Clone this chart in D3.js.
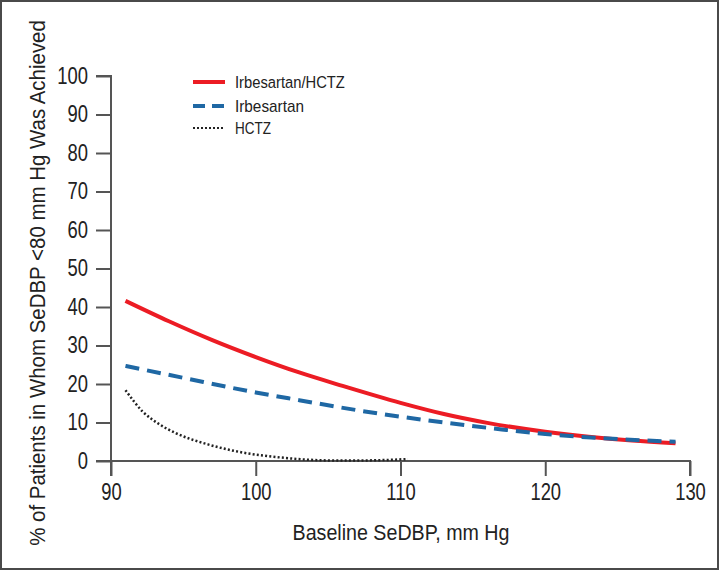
<!DOCTYPE html>
<html>
<head>
<meta charset="utf-8">
<script src="https://cdn.jsdelivr.net/npm/d3@7"></script>
<style>
  html, body { margin: 0; padding: 0; background: #fff; }
  svg { display: block; }
  text { font-family: "Liberation Sans", Arial, sans-serif; fill: #222; }
</style>
</head>
<body>
<svg id="chart" width="720" height="571"></svg>
<script>
// ---- data ----
const xTicks = [90, 100, 110, 120, 130];
const yTicks = [0, 10, 20, 30, 40, 50, 60, 70, 80, 90, 100];
const seriesNames = ["Irbesartan/HCTZ", "Irbesartan", "HCTZ"];

const comboX = [91, 94, 97, 100, 103, 106, 110, 113, 116, 120, 123, 126, 129];
const comboY = [41.6, 36.3, 31.4, 27.0, 23.0, 19.5, 15.1, 12.2, 9.9, 7.6, 6.3, 5.3, 4.6];

const irbX = [91, 95, 100, 103, 107, 110, 113, 117, 120, 125, 129];
const irbY = [24.7, 21.6, 17.8, 15.8, 13.2, 11.5, 10.0, 8.2, 7.0, 5.7, 5.0];

const hctzX = [91, 92.2, 93.4, 94.5, 96.8, 99.1, 101.5, 103.8, 106, 108.4, 110.5];
const hctzY = [18.4, 12.8, 9.4, 7.2, 4.2, 2.2, 1.0, 0.3, 0.1, 0.2, 0.5];

const xTitle = "Baseline SeDBP, mm Hg";
const yTitle = "% of Patients in Whom SeDBP <80 mm Hg Was Achieved";

// ---- drawing ----
const svg = d3.select("#chart");
const W = 720, H = 571;
const SX = 0.8; // horizontal condensing of the typeface

svg.append("rect").attr("x", 1).attr("y", 1).attr("width", W - 3).attr("height", H - 3)
  .attr("fill", "#fff").attr("stroke", "#4a4a4a").attr("stroke-width", 2);

const x = d3.scaleLinear().domain([90, 130]).range([111, 690]);
const y = d3.scaleLinear().domain([0, 100]).range([461, 76]);

const axisColor = "#555";

const xAxis = svg.append("g").attr("transform", `translate(0,${y(0)})`)
  .call(d3.axisBottom(x).tickValues(xTicks).tickSize(15).tickPadding(8).tickFormat(d3.format("d")));
const yAxis = svg.append("g").attr("transform", `translate(${x(90)},0)`)
  .call(d3.axisLeft(y).tickValues(yTicks).tickSize(15).tickPadding(7).tickFormat(d3.format("d")));

[xAxis, yAxis].forEach(g => {
  g.select(".domain").attr("stroke", axisColor).attr("stroke-width", 2);
  g.selectAll(".tick line").attr("stroke", axisColor).attr("stroke-width", 2);
  g.selectAll(".tick text").attr("font-size", 23).attr("fill", "#222")
    .style("font-family", '"Liberation Sans", Arial, sans-serif');
});
xAxis.selectAll(".tick text").attr("transform", `scale(${SX},1)`);
yAxis.selectAll(".tick text").attr("x", -23 / SX).attr("transform", `scale(${SX},1)`);
xAxis.select(".domain").attr("d", `M${x(90)},15V0H${x(130)}V15`);
yAxis.select(".domain").attr("d", `M-15,${y(100)}H0V${y(0)}H-15`);

// condensed text helper: scale horizontally to a target width
function fitText(g, target) {
  const t = g.select("text");
  const len = t.node().getComputedTextLength();
  t.attr("transform", `scale(${target / len},1)`);
}

const xt = svg.append("g").attr("transform", "translate(401,540)");
xt.append("text").attr("text-anchor", "middle").attr("font-size", 22).text(xTitle);
fitText(xt, 217);

const yt = svg.append("g").attr("transform", "translate(45,283) rotate(-90)");
yt.append("text").attr("text-anchor", "middle").attr("font-size", 22).text(yTitle);
fitText(yt, 526);

const line = d3.line().x(d => x(d[0])).y(d => y(d[1])).curve(d3.curveMonotoneX);
const zip = (a, b) => a.map((v, i) => [v, b[i]]);

const styles = [
  { color: "#ec1c24", width: 4, dash: null },
  { color: "#1f68a4", width: 4, dash: "14,8" },
  { color: "#222", width: 2.5, dash: "2,2.2" }
];
const data = [zip(comboX, comboY), zip(irbX, irbY), zip(hctzX, hctzY)];

[2, 0, 1].forEach(i => {
  svg.append("path").datum(data[i]).attr("d", line)
    .attr("fill", "none").attr("stroke", styles[i].color).attr("stroke-width", styles[i].width)
    .attr("stroke-dasharray", styles[i].dash);
});

// legend
const legY = [82, 106, 128];
const legW = [110, 69, 36];
seriesNames.forEach((name, i) => {
  svg.append("line").attr("x1", 193).attr("x2", 225).attr("y1", legY[i]).attr("y2", legY[i])
    .attr("stroke", styles[i].color).attr("stroke-width", i === 2 ? 2 : styles[i].width)
    .attr("stroke-dasharray", i === 1 ? "12,7" : (i === 2 ? "2,2" : null));
  const g = svg.append("g").attr("transform", `translate(235,${legY[i] + 6})`);
  g.append("text").attr("font-size", 17).text(name);
  fitText(g, legW[i]);
});
</script>
</body>
</html>
